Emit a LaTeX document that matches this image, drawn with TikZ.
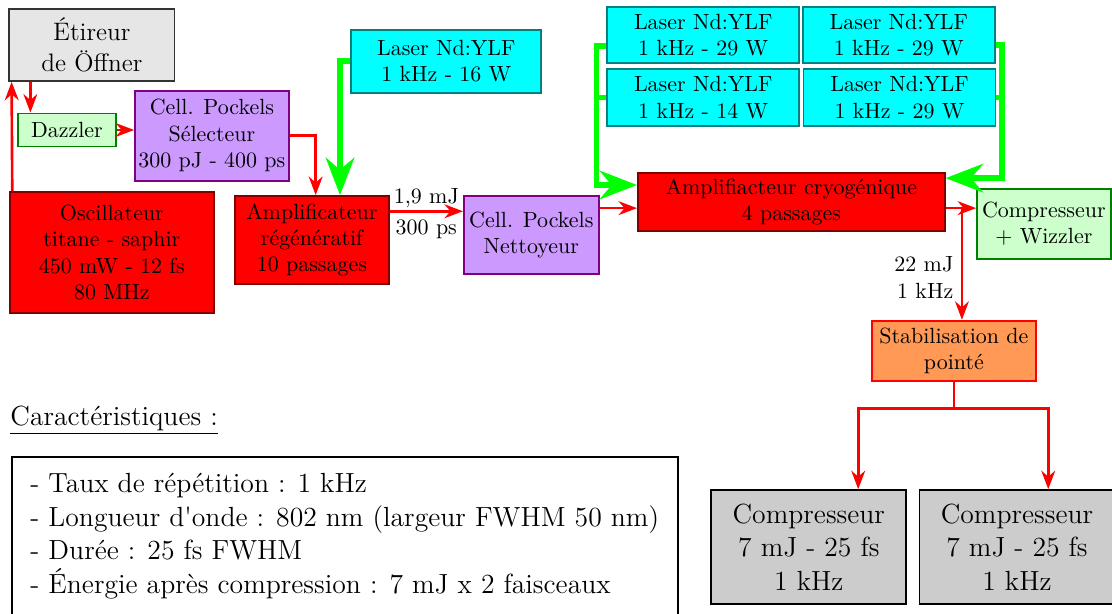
\documentclass[tikz,border=0pt]{standalone}
\usepackage{fontspec}
\usetikzlibrary{calc,arrows.meta}
\tikzset {>=Stealth}
\definecolor{rougefonce}{RGB}{128,0,0}
\definecolor{mauve}{RGB}{204,153,255}
\definecolor{mauvefonce}{RGB}{128,0,128}
\definecolor{vertclair}{RGB}{204,255,204}
\definecolor{vertfonce}{RGB}{0,128,0}
\definecolor{cyanvif}{RGB}{0,255,255}
\definecolor{sarcelle}{RGB}{0,128,128}
\definecolor{orangeclair}{RGB}{255,153,85}
\definecolor{grisclair}{RGB}{230,230,230}
\definecolor{grismoyen}{RGB}{204,204,204}
\newcommand{\grand}{\fontsize{12.6}{15.2}\selectfont}
\tikzset{
  bloc/.style={draw, thick, align=center, inner sep=1pt},
  ampli/.style={bloc, fill=red, draw=rougefonce},
  pockels/.style={bloc, fill=mauve, draw=mauvefonce},
  laser/.style={bloc, fill=cyanvif, draw=sarcelle},
  optique/.style={bloc, fill=vertclair, draw=vertfonce},
  compr/.style={bloc, fill=grismoyen, draw=black, font=\grand},
  beam/.style={->, red, very thick},
  etiq/.style={text=black},
  pump/.style={green, line width=2.5pt, >={Stealth[length=17pt,width=13pt]}}
}

\begin{document}
\begin{tikzpicture}
\clip (0,0) rectangle (17.79,9.82);
\node[bloc, fill=grisclair, draw=black!80, minimum width=2.64cm, minimum height=1.15cm, font=\fontsize{11.5}{14}\selectfont] (etireur) at (1.47,9.10) {Étireur\\de Öffner};
\node[optique, minimum width=1.57cm, minimum height=0.53cm] (dazzler) at (1.07,7.74) {Dazzler};
\node[pockels, minimum width=2.46cm, minimum height=1.44cm] (selecteur) at (3.39,7.65) {Cell. Pockels\\Sélecteur\\300 pJ - 400 ps};
\node[ampli, minimum width=3.26cm, minimum height=1.94cm] (oscillateur) at (1.79,5.78) {Oscillateur\\titane - saphir\\450 mW - 12 fs\\80 MHz};
\node[ampli, minimum width=2.46cm, minimum height=1.41cm] (regen) at (4.99,5.98) {Amplificateur\\régénératif\\10 passages};
\node[laser, minimum width=3.04cm, minimum height=1.01cm] (yag16) at (7.14,8.84) {Laser Nd:YLF\\1 kHz - 16 W};
\node[pockels, minimum width=2.16cm, minimum height=1.25cm] (nettoyeur) at (8.50,6.06) {Cell. Pockels\\Nettoyeur};
\node[laser, minimum width=3.07cm, minimum height=0.90cm] (ylfa) at (11.25,9.26) {Laser Nd:YLF\\1 kHz - 29 W};
\node[laser, minimum width=3.07cm, minimum height=0.90cm] (ylfb) at (14.38,9.26) {Laser Nd:YLF\\1 kHz - 29 W};
\node[laser, minimum width=3.07cm, minimum height=0.90cm] (ylfc) at (11.25,8.26) {Laser Nd:YLF\\1 kHz - 14 W};
\node[laser, minimum width=3.07cm, minimum height=0.90cm] (ylfd) at (14.39,8.26) {Laser Nd:YLF\\1 kHz - 29 W};
\node[ampli, minimum width=4.91cm, minimum height=0.93cm] (cryo) at (12.66,6.59) {Amplifiacteur cryogénique\\4 passages};
\node[optique, minimum width=2.14cm, minimum height=1.12cm] (wizzler) at (16.70,6.24) {Compresseur\\+ Wizzler};
\node[bloc, fill=orangeclair, draw=red, minimum width=2.62cm, minimum height=0.96cm] (stab) at (15.26,4.21) {Stabilisation de\\pointé};
\node[compr, minimum width=3.12cm, minimum height=1.82cm] (comprA) at (12.94,1.07) {Compresseur\\7 mJ - 25 fs\\1 kHz};
\node[compr, minimum width=3.12cm, minimum height=1.82cm] (comprB) at (16.27,1.07) {Compresseur\\7 mJ - 25 fs\\1 kHz};
\node[anchor=base west, font=\grand, inner sep=0pt] (titre) at (0.16,3.02) {\underline{Caractéristiques :}};
\draw[thick] (0.19,2.51) rectangle (10.85,-0.5);
\node[anchor=north west, align=left, font=\grand, inner sep=0pt] (carac) at (0.48,2.25) {- Taux de répétition : 1 kHz\\- Longueur d\textquotesingle onde : 802 nm (largeur FWHM 50 nm)\\- Durée : 25 fs FWHM\\- Énergie après compression : 7 mJ x 2 faisceaux};
\draw[beam] ($(oscillateur.north west)+(0.05,0)$) -- ($(etireur.south west)+(0.05,0)$);
\coordinate (e1) at ($(etireur.south west)+(0.35,0)$);
\draw[beam] (e1) -- (e1 |- dazzler.north);
\draw[beam] (dazzler.east) -- (dazzler.east -| selecteur.west);
\draw[beam] (selecteur.east) -| ($(regen.north)+(0.06,0)$);
\draw[pump,->] (yag16.west) -| ($(regen.north)+(0.45,0)$);
\coordinate (r1) at ($(regen.east)+(0,0.46)$);
\draw[beam] (r1) -- node[etiq,above,inner sep=1pt] {1,9 mJ} node[etiq,below] {300 ps} (r1 -| nettoyeur.west);
\coordinate (n1) at ($(nettoyeur.east)+(0,0.43)$);
\draw[beam] (n1) -- (n1 -| cryo.west);
\coordinate (c1) at ($(cryo.east)+(0,-0.1)$);
\draw[beam] (c1) -- (c1 -| wizzler.west);
\coordinate (c2) at ($(c1)+(0.26,0)$);
\draw[beam] (c2) -- node[etiq,left,align=right,pos=0.62] {22 mJ\\1 kHz} (c2 |- stab.north);
\draw[beam] (stab.south) -- ++(0,-0.43) coordinate (s1) -| ($(comprA.north)+(0.79,0)$);
\draw[beam] (s1) -| ($(comprB.north)+(0.5,0)$);
\coordinate (p1) at ($(cryo.west)+(0,0.27)$);
\draw[pump,->] ($(ylfa.west)+(0,-0.18)$) -- ++(-0.16,0) |- (p1);
\draw[pump] (ylfc.west) -- ++(-0.16,0);
\coordinate (p2) at ($(cryo.east)+(0,0.38)$);
\draw[pump,->] ($(ylfb.east)+(0,-0.16)$) -- ++(0.1,0) |- (p2);
\draw[pump] (ylfd.east) -- ++(0.1,0);
\end{tikzpicture}
\end{document}
